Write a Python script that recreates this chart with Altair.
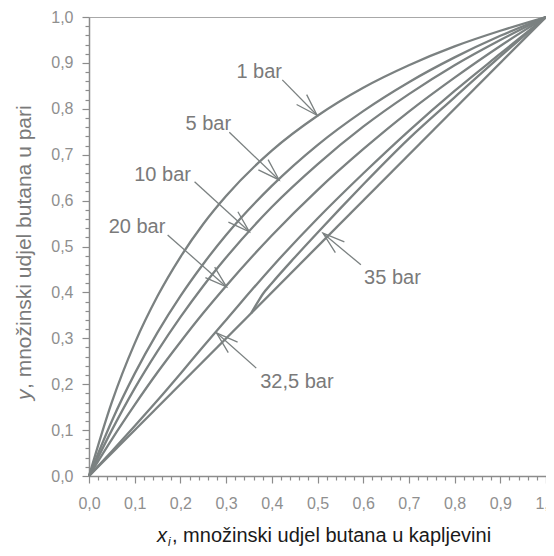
import math
import altair as alt
import pandas as pd

# ---------------- data ----------------
x_grid = [0.0, 0.05, 0.1, 0.15, 0.2, 0.25, 0.3, 0.4, 0.5, 0.6, 0.7, 0.8, 0.9, 1.0]
y_1bar = [0.0, 0.161, 0.289, 0.392, 0.477, 0.549, 0.610, 0.709, 0.785, 0.846, 0.895, 0.936, 0.970, 1.0]
y_5bar = [0.0, 0.120, 0.223, 0.313, 0.392, 0.462, 0.525, 0.632, 0.721, 0.795, 0.858, 0.912, 0.959, 1.0]
y_10bar = [0.0, 0.100, 0.191, 0.272, 0.346, 0.414, 0.476, 0.586, 0.679, 0.761, 0.832, 0.895, 0.950, 1.0]
y_20bar = [0.0, 0.080, 0.155, 0.226, 0.292, 0.355, 0.414, 0.524, 0.623, 0.712, 0.794, 0.868, 0.937, 1.0]
y_32bar = [0.0, 0.054, 0.109, 0.165, 0.223, 0.282, 0.340, 0.455, 0.561, 0.659, 0.752, 0.839, 0.920, 1.0]
x_35bar = [0.355, 0.362, 0.37, 0.38, 0.4, 0.45, 0.5, 0.55, 0.6, 0.7, 0.8, 0.9, 1.0]
y_35bar = [0.355, 0.367, 0.380, 0.396, 0.420, 0.476, 0.530, 0.583, 0.635, 0.735, 0.825, 0.914, 1.0]
x_diag = [0.0, 1.0]
y_diag = [0.0, 1.0]

label_text = ["1 bar", "5 bar", "10 bar", "20 bar", "35 bar", "32,5 bar"]
label_x = [0.3725, 0.261, 0.161, 0.105, 0.664, 0.455]
label_y = [0.880, 0.767, 0.656, 0.542, 0.431, 0.205]
arrow_x0 = [0.423, 0.307, 0.231, 0.172, 0.595, 0.366]
arrow_y0 = [0.863, 0.749, 0.641, 0.525, 0.460, 0.235]
arrow_x1 = [0.499, 0.416, 0.351, 0.301, 0.512, 0.279]
arrow_y1 = [0.786, 0.645, 0.532, 0.412, 0.529, 0.312]

tick_values = [round(i * 0.02, 2) for i in range(51)]

# ---------------- build tables ----------------
W, H = 457, 459
rows = []
for name, xs, ys in [
    ("1 bar", x_grid, y_1bar),
    ("5 bar", x_grid, y_5bar),
    ("10 bar", x_grid, y_10bar),
    ("20 bar", x_grid, y_20bar),
    ("32,5 bar", x_grid, y_32bar),
    ("35 bar", x_35bar, y_35bar),
    ("diag", x_diag, y_diag),
]:
    for xv, yv in zip(xs, ys):
        rows.append({"series": name, "x": xv, "y": yv})
curves = pd.DataFrame(rows)

ann = pd.DataFrame({
    "label": label_text, "lx": label_x, "ly": label_y,
    "x0": arrow_x0, "y0": arrow_y0, "x1": arrow_x1, "y1": arrow_y1,
})
ann["angle"] = [
    (math.degrees(math.atan2(-(b1 - b0) * H, (a1 - a0) * W)) + 360) % 360
    for a0, b0, a1, b1 in zip(arrow_x0, arrow_y0, arrow_x1, arrow_y1)
]

# ---------------- styling ----------------
GRAY_LINE = "#7b8181"
GRAY_TEXT = "#7a7a7a"
AXIS_GRAY = "#8c8c8c"
FONT = "Liberation Sans"

major_test = "abs(round(datum.value*10) - datum.value*10) < 0.001"
label_expr = f"({major_test}) ? replace(format(datum.value, '.1f'), '.', ',') : ''"

def make_axis():
    return alt.Axis(
        values=tick_values, title=None, grid=False,
        labelExpr=label_expr, labelOverlap=False, labelFlush=False,
        labelFont=FONT, labelFontSize=16, labelColor="#8f8f8f",
        tickSize={"condition": {"test": major_test, "value": 7}, "value": 4},
        tickColor=AXIS_GRAY, tickWidth=1.2,
        domainColor=AXIS_GRAY, domainWidth=1.5,
    )

x_axis = make_axis()
y_axis = make_axis()
x_axis.labelPadding = 12
y_axis.labelPadding = 9

sc = alt.Scale(domain=[0, 1], nice=False, zero=False)

def X(f):
    return alt.X(f, type="quantitative", scale=sc, axis=x_axis)

def Y(f):
    return alt.Y(f, type="quantitative", scale=sc, axis=y_axis)

lines = alt.Chart(curves).mark_line(
    color=GRAY_LINE, strokeWidth=2.3, interpolate="monotone"
).encode(x=X("x"), y=Y("y"), detail="series:N")

shafts = alt.Chart(ann).mark_rule(color=GRAY_LINE, strokeWidth=1.3).encode(
    x=X("x0"), y=Y("y0"), x2="x1:Q", y2="y1:Q"
)

heads = alt.Chart(ann).mark_point(
    shape="M -1 -0.32 L 0 0 L -1 0.32", filled=False, size=1936,
    color=GRAY_LINE, strokeWidth=1.3, opacity=1,
).encode(x=X("x1"), y=Y("y1"), angle=alt.Angle("angle:Q", scale=None))

labels = alt.Chart(ann).mark_text(
    font=FONT, fontSize=20, color=GRAY_TEXT, align="center", baseline="middle"
).encode(x=X("lx"), y=Y("ly"), text="label:N")

one = alt.Data(values=[{"a": 1}])

def txt(s, x, y, size, color, style="normal", angle=0, dy=0):
    return alt.Chart(one).mark_text(
        font=FONT, fontSize=size, color=color, fontStyle=style, align="left",
        baseline="middle", angle=angle, dy=dy,
    ).encode(x=alt.value(x), y=alt.value(y), text=alt.value(s))

xt1 = txt("x", 68, 519, 20, "#1a1a1a", "italic")
xt2 = txt("i", 79, 519, 12, "#1a1a1a", "italic", dy=6)
xt3 = txt(", množinski udjel butana u kapljevini", 83, 519, 20, "#1a1a1a")
yt1 = txt("y", -64, 383, 21, GRAY_TEXT, "italic", angle=270)
yt2 = txt(", množinski udjel butana u pari", -64, 372, 21, GRAY_TEXT, angle=270)

chart = alt.layer(lines, shafts, heads, labels, xt1, xt2, xt3, yt1, yt2).properties(
    width=W, height=H,
    autosize=alt.AutoSizeParams(type="none"),
    padding={"left": 81, "top": 9, "right": 0, "bottom": 72},
).configure_view(stroke="#a8a8a8", strokeWidth=1)

chart.save("out.html", embed_options={"renderer": "svg", "actions": False})
